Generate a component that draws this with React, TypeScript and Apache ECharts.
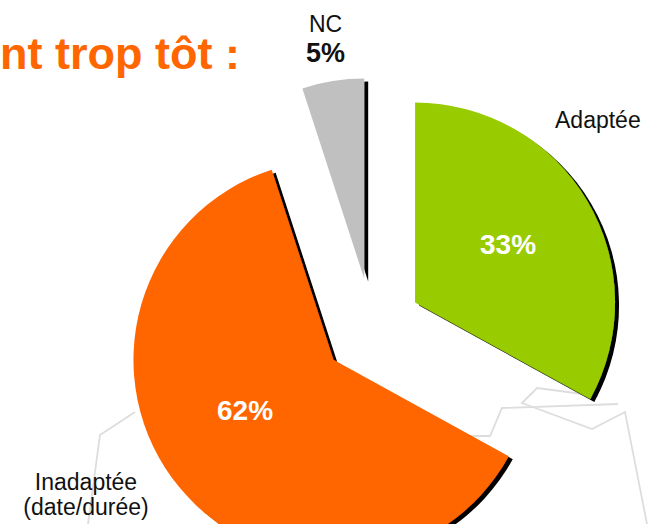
import { useEffect, useRef } from 'react';
import * as echarts from 'echarts';

const categories = ['Adaptée', 'Inadaptée\n(date/durée)', 'NC'];
const values = [33, 62, 5];
const colors = ['#99CC00', '#FF6600', '#C0C0C0'];
const titleText = 'nt trop tôt :';

const FONT = '"Liberation Sans", Arial, Helvetica, sans-serif';

// label layout (positions only)
const innerLabelPos: [number, number][] = [[508, 244], [245, 410], [0, 0]];
const outerLabelPos: [number, number, string][] = [[555, 120, 'left'], [86, 494, 'center'], [306, 40, 'left']];

const decoLines: number[][][] = [
  [[598, 396], [537, 388], [522, 403], [592, 429], [625, 412], [647, 524]],
  [[618, 404], [502, 408], [490, 436], [440, 436]],
  [[135, 412], [100, 435], [88, 524]],
];

export default function App() {
  const ref = useRef<HTMLDivElement>(null);
  useEffect(() => {
    document.body.style.margin = '0';
    const chart = echarts.init(ref.current!, null, { renderer: 'svg' });
    const sliceData = categories.map((name, i) => ({
      name,
      value: values[i],
      selected: true,
      itemStyle: { color: colors[i] },
    }));
    const labelData = categories.map((name, i) => ({
      name,
      value: values[i],
    }));
    const innerData = categories.map((name, i) => ({
      name,
      value: values[i],
      label: { show: i !== 2 },
    }));
    const ghost = {
      type: 'pie',
      center: [372, 328],
      radius: 200,
      startAngle: 90,
      clockwise: true,
      silent: true,
      z: 3,
      avoidLabelOverlap: false,
      itemStyle: { color: 'rgba(0,0,0,0)' },
      emphasis: { disabled: true },
      labelLine: { show: false },
    };
    chart.setOption({
      animation: false,
      backgroundColor: '#ffffff',
      graphic: [
        ...decoLines.map((pts) => ({
          type: 'polyline',
          z: 0,
          silent: true,
          shape: { points: pts },
          style: { stroke: '#DDDDDD', lineWidth: 1.8, fill: 'none' },
        })),
        {
          type: 'text',
          left: 0,
          top: 31,
          z: 10,
          style: {
            text: titleText,
            fill: '#FF6600',
            font: `bold 45px ${FONT}`,
          },
        },
      ],
      series: [
        {
          type: 'pie',
          center: [372, 328],
          radius: 200,
          startAngle: 90,
          clockwise: true,
          selectedMode: 'multiple',
          selectedOffset: 50,
          avoidLabelOverlap: false,
          emphasis: { disabled: true },
          itemStyle: {
            shadowColor: '#000000',
            shadowBlur: 0,
            shadowOffsetX: 4,
            shadowOffsetY: 3,
          },
          label: { show: false },
          labelLine: { show: false },
          data: sliceData,
        },
        {
          ...ghost,
          label: {
            show: true,
            position: 'outside',
            formatter: (p: any) => `${p.value}%`,
            color: '#ffffff',
            fontWeight: 'bold',
            fontSize: 28,
            fontFamily: FONT,
          },
          labelLayout: (p: any) => ({
            x: innerLabelPos[p.dataIndex][0],
            y: innerLabelPos[p.dataIndex][1],
            align: 'center',
            verticalAlign: 'middle',
          }),
          data: innerData,
        },
        {
          ...ghost,
          label: {
            show: true,
            position: 'outside',
            formatter: (p: any) =>
              p.dataIndex === 2 ? `{n|${p.name}}\n{p|${p.value}%}` : `{n|${p.name}}`,
            rich: {
              n: { fontSize: 23, fontFamily: FONT, color: '#111111', lineHeight: 25, align: 'center' },
              p: { fontSize: 27, fontFamily: FONT, fontWeight: 'bold', color: '#111111', lineHeight: 33 },
            },
          },
          labelLayout: (p: any) => ({
            x: outerLabelPos[p.dataIndex][0],
            y: outerLabelPos[p.dataIndex][1],
            align: outerLabelPos[p.dataIndex][2],
            verticalAlign: 'middle',
          }),
          data: labelData,
        },
      ],
    });
    return () => chart.dispose();
  }, []);
  return <div ref={ref} style={{ width: 648, height: 524 }} />;
}
